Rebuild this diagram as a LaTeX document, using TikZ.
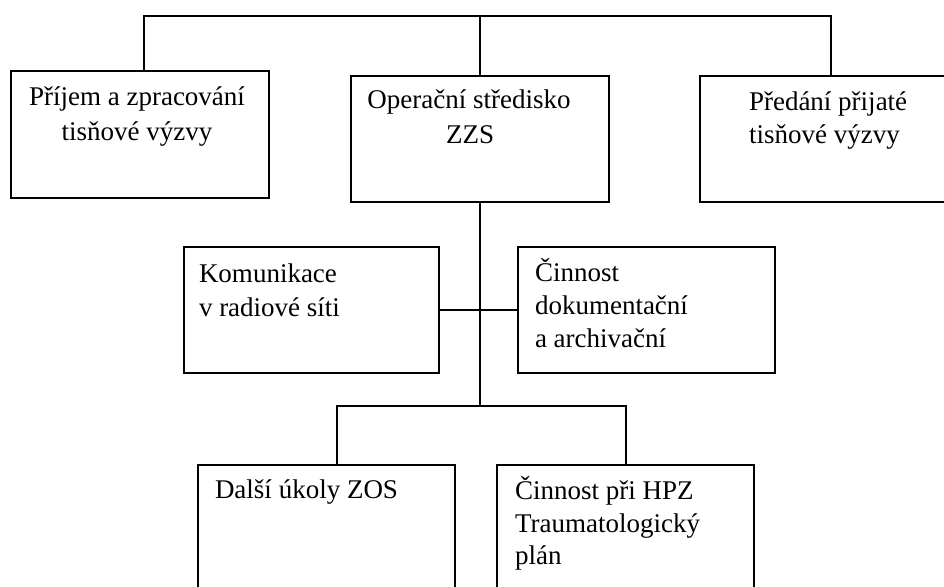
\documentclass[tikz,border=0pt]{standalone}
\usepackage{fontspec}
\setmainfont{Liberation Serif}
\begin{document}
\begin{tikzpicture}[x=1pt,y=-1pt,
  box/.style={draw=black,line width=2.6pt,inner sep=0pt,outer sep=0pt,rectangle},
  conn/.style={draw=black,line width=2.2pt},
  txt/.style={inner sep=0pt,outer sep=0pt,font=\fontsize{27}{34}\selectfont,text=black}]
\useasboundingbox (0,0) rectangle (944,586);
\clip (0,0) rectangle (944,586);
\fill[white] (0,0) rectangle (944,586);
% boxes
\node[box,minimum width=258pt,minimum height=127pt] (b1) at (140,134.5) {};
\node[box,minimum width=258pt,minimum height=126pt] (b2) at (480,139) {};
\node[box,minimum width=250pt,minimum height=126pt] (b3) at (825,139) {};
\node[box,minimum width=255pt,minimum height=126pt] (b4) at (311.5,310) {};
\node[box,minimum width=257pt,minimum height=126pt] (b5) at (646.5,310) {};
\node[box,minimum width=257pt,minimum height=140pt] (b6) at (326.5,535) {};
\node[box,minimum width=257pt,minimum height=140pt] (b7) at (625.5,535) {};
% texts
\node[txt,anchor=base] (t1a) at (137,105) {Příjem a zpracování};
\node[txt,anchor=base] (t1b) at (137,140) {tisňové výzvy};
\node[txt,anchor=base] (t2a) at (469,108) {Operační středisko};
\node[txt,anchor=base] (t2b) at (470,143) {ZZS};
\node[txt,anchor=base west] (t3a) at (749,110) {Předání přijaté};
\node[txt,anchor=base west] (t3b) at (749,143) {tisňové výzvy};
\node[txt,anchor=base west] (t4a) at (199,282) {Komunikace};
\node[txt,anchor=base west] (t4b) at (199,316) {v radiové síti};
\node[txt,anchor=base west] (t5a) at (535,281) {Činnost};
\node[txt,anchor=base west] (t5b) at (535,314) {dokumentační};
\node[txt,anchor=base west] (t5c) at (535,347) {a archivační};
\node[txt,anchor=base west] (t6a) at (215,498) {Další úkoly ZOS};
\node[txt,anchor=base west] (t7a) at (515,499) {Činnost při HPZ};
\node[txt,anchor=base west] (t7b) at (515,532) {Traumatologický};
\node[txt,anchor=base west] (t7c) at (515,564) {plán};
% connectors
\coordinate (j1) at (144,16);
\coordinate (j3) at (831,16);
\draw[conn] (j1 |- b1.north) -- (j1) -- (j3) -- (j3 |- b3.north);
\draw[conn] (b2.north) -- (b2.north |- j1);
\coordinate (m) at (480,406);
\draw[conn] (b2.south) -- (m);
\draw[conn] (b4.east) -- (b5.west);
\coordinate (l) at (337,406);
\coordinate (r) at (626,406);
\draw[conn] (l |- b6.north) -- (l) -- (r) -- (r |- b7.north);
\end{tikzpicture}
\end{document}
